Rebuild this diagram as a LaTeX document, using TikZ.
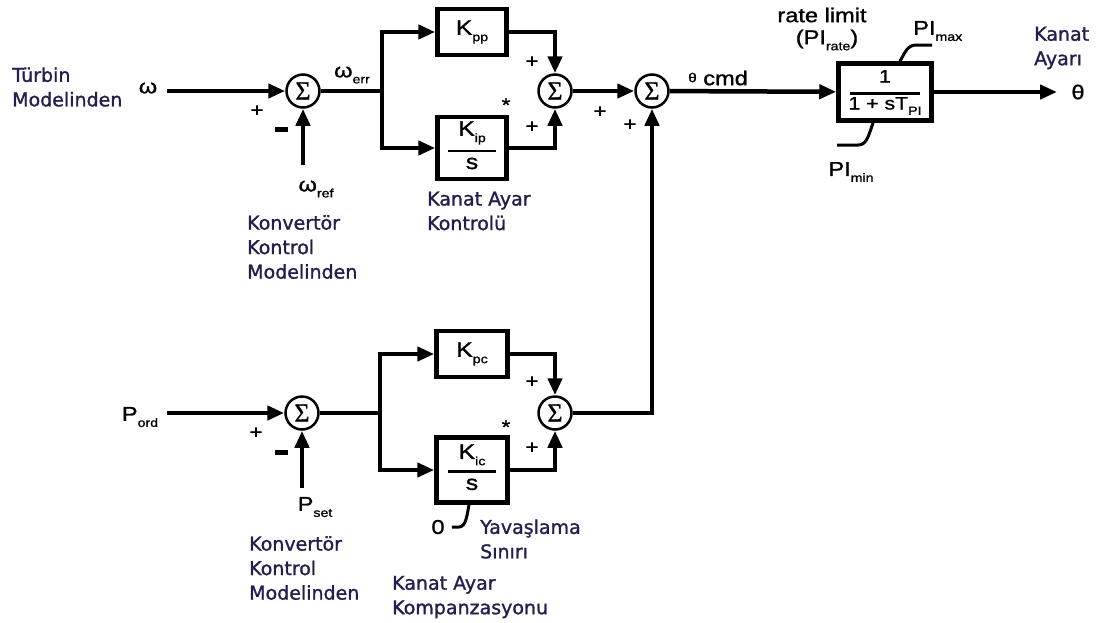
\documentclass[tikz,border=0pt]{standalone}
\usepackage{fontspec}
\setmainfont[FakeBold=1.2]{DejaVu Sans}
\newfontfamily\symfont[FakeStretch=1.18,FakeBold=1.2]{Liberation Sans}
\newfontfamily\sigfont[FakeBold=0.8]{Liberation Serif}
\usetikzlibrary{arrows.meta}
\definecolor{navy}{RGB}{34,30,78}
\newcommand\lo[1]{\raisebox{-0.3em}{\fontsize{12}{12}\selectfont #1}}
\newcommand\hi[1]{\raisebox{0.15em}{\fontsize{13}{13}\selectfont #1}}
\tikzset{
  lbl/.style={font=\fontsize{19}{24.5}\selectfont, text=navy, align=left, inner sep=0pt},
  sym/.style={font=\symfont\fontsize{20}{22}\selectfont, inner sep=0pt},
  small/.style={font=\symfont\fontsize{19}{19}\selectfont, inner sep=0pt},
  sumnode/.style={circle, draw, line width=2.5pt, minimum size=33pt, inner sep=0pt,
    font=\sigfont\fontsize{26}{26}\selectfont},
  blk/.style={draw, line width=4.5pt, inner sep=0pt, font=\symfont\fontsize{21}{22}\selectfont},
  wire/.style={line width=4.5pt},
  arr/.style={wire, -{Triangle[length=17pt,width=14pt]}},
  limline/.style={line width=3pt},
  minus/.style={fill, minimum width=13pt, minimum height=5pt, inner sep=0pt},
}
\begin{document}
\begin{tikzpicture}[x=1pt,y=-1pt]
\useasboundingbox[fill=white] (0,0) rectangle (1100,622);

% ---------- pitch control loop (speed error) ----------
\node[lbl, anchor=west] (src1) at (12,87) {Türbin\\Modelinden};
\node[sym] (w) at (148,88) {ω};
\coordinate (win) at (167,91);
\node[sumnode] (s1) at (303,91) {Σ};
\node[small] (p1) at (257,111) {+};
\node[minus] (m1) at (281,129) {};
\coordinate (wref) at (303,165);
\node[sym] (wreflbl) at (316,189) {ω\lo{ref}};
\node[lbl, anchor=west] (src2) at (247,247) {Konvertör\\Kontrol\\Modelinden};
\node[sym] (werr) at (352,75) {ω\lo{err}};
\coordinate (b1) at (382,91);

\node[blk, minimum width=69pt, minimum height=46pt] (kpp) at (472,32) {K\lo{pp}};
\node[blk, minimum width=69pt, minimum height=62pt] (kip) at (472,148)
  {\begin{tabular}{@{}c@{}}K\lo{ip}\\[-8pt]\rule{48pt}{2.5pt}\\[-5pt]s\end{tabular}};
\node[small] (st1) at (506,105) {*};
\node[sumnode] (s2) at (555,91) {Σ};
\node[small] (p2) at (532,62) {+};
\node[small] (p3) at (532,127) {+};
\node[lbl, anchor=west] (ctl1) at (427,211) {Kanat Ayar\\Kontrolü};

\node[sumnode] (s3) at (652,91) {Σ};
\node[small] (p4) at (600,112) {+};
\node[small] (p5) at (630,125) {+};
\node[sym, anchor=west] (cmd) at (688,78) {\hi{θ} cmd};

% ---------- pitch actuator ----------
\node[blk, minimum width=93pt, minimum height=57pt, font=\symfont\fontsize{18}{20}\selectfont] (tf) at (885,92)
  {\begin{tabular}{@{}c@{}}1\\[-8pt]\rule{70pt}{2.5pt}\\[-5pt]1 + sT\lo{PI}\end{tabular}};
\node[sym] (rate) at (822,15) {rate limit};
\node[sym] (prate) at (827,40) {(PI\lo{rate})};
\node[sym, anchor=west] (pmax) at (913,31) {PI\lo{max}};
\node[sym] (pmin) at (851,172) {PI\lo{min}};
\coordinate (thout) at (1057,92);
\node[sym] (th) at (1078,92) {θ};
\node[lbl, anchor=west] (outlbl) at (1034,48) {Kanat\\Ayarı};

% ---------- pitch compensation loop (power error) ----------
\node[sym] (pord) at (140,417) {P\lo{ord}};
\coordinate (pin) at (167,413);
\node[sumnode] (s4) at (302,413) {Σ};
\node[small] (p6) at (256,433) {+};
\node[minus] (m2) at (281,452) {};
\coordinate (pset) at (302,488);
\node[sym] (psetlbl) at (315,507) {P\lo{set}};
\node[lbl, anchor=west] (src3) at (249,568) {Konvertör\\Kontrol\\Modelinden};
\coordinate (b2) at (380,413);

\node[blk, minimum width=71pt, minimum height=46pt] (kpc) at (472,354) {K\lo{pc}};
\node[blk, minimum width=71pt, minimum height=65pt] (kic) at (472,470)
  {\begin{tabular}{@{}c@{}}K\lo{ic}\\[-8pt]\rule{48pt}{2.5pt}\\[-5pt]s\end{tabular}};
\node[small] (st2) at (506,427) {*};
\node[sumnode] (s5) at (555,413) {Σ};
\node[small] (p7) at (532,382) {+};
\node[small] (p8) at (532,448) {+};
\node[sym] (zero) at (438,527) {0};
\node[lbl, anchor=west] (slow) at (480,539) {Yavaşlama\\Sınırı};
\node[lbl, anchor=west] (ctl2) at (392,597) {Kanat Ayar\\Kompanzasyonu};

% ---------- connections ----------
\draw[arr] (win) -- (s1);
\draw[arr] (wref) -- (s1);
\draw[wire] (s1) -- (b1);
\draw[arr] (b1) |- (kpp.west);
\draw[arr] (b1) |- (kip.west);
\draw[arr] (kpp.east) -| (s2.north);
\draw[arr] (kip.east) -| (s2.south);
\draw[arr] (s2) -- (s3);
\draw[arr] (s3) -- (tf);
\draw[arr] (tf) -- (thout);

\draw[arr] (pin) -- (s4);
\draw[arr] (pset) -- (s4);
\draw[wire] (s4) -- (b2);
\draw[arr] (b2) |- (kpc.west);
\draw[arr] (b2) |- (kic.west);
\draw[arr] (kpc.east) -| (s5.north);
\draw[arr] (kic.east) -| (s5.south);
\draw[arr] (s5) -| (s3.south);

% ---------- limiter marks ----------
\draw[limline] ([xshift=15pt]tf.north) .. controls (905,52) and (908,45) .. (916,45) -- (932,45);
\draw[limline] ([xshift=-12pt]tf.south) .. controls (868,138) and (866,145) .. (858,145) -- (837,145);
\draw[limline] ([xshift=7pt]zero.east) -- (459,527) .. controls (466,527) and (467,515) .. ([xshift=-3pt]kic.south);
\end{tikzpicture}
\end{document}
